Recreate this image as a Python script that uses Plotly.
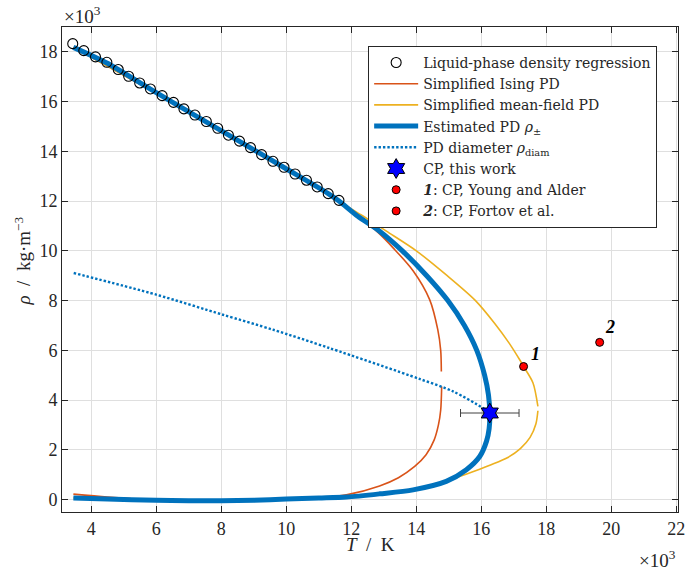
import plotly.graph_objects as go

# ---- data (units: 10^3 K, 10^3 kg/m^3) ----
circ_T = [3.43, 3.77, 4.13, 4.48, 4.83, 5.15, 5.49, 5.82, 6.18, 6.53, 6.85, 7.19, 7.54,
          7.89, 8.22, 8.56, 8.90, 9.24, 9.59, 9.93, 10.27, 10.62, 10.95, 11.29, 11.62]
circ_rho = [18.33, 18.05, 17.80, 17.58, 17.29, 17.02, 16.75, 16.51, 16.24, 15.97, 15.71, 15.46, 15.20,
            14.93, 14.65, 14.41, 14.15, 13.87, 13.60, 13.36, 13.09, 12.84, 12.57, 12.30, 12.03]

est_T = [3.45, 4.48, 5.82, 7.19, 8.56, 9.93, 11.29, 11.62, 12.2, 12.87, 13.57, 14.32, 14.97, 15.48,
         15.86, 16.1, 16.22, 16.26,
         16.24, 16.16, 15.95, 15.54, 14.92, 13.9, 12.87, 11.85, 11.0, 10.0, 9.0, 8.0, 7.0, 6.0, 4.5, 3.45]
est_rho = [18.18, 17.55, 16.5, 15.45, 14.4, 13.35, 12.3, 12.0, 11.39, 10.79, 10.0, 9.0, 8.0, 7.0,
           6.0, 5.0, 4.2, 3.48,
           2.85, 2.35, 1.73, 1.2, 0.73, 0.39, 0.23, 0.1, 0.06, 0.02, -0.03, -0.05, -0.05, -0.03, 0.02, 0.06]

ising_up_T = [3.45, 7.19, 11.29, 11.8, 12.3, 12.77, 13.3, 13.9, 14.41, 14.66, 14.75, 14.77]
ising_up_rho = [18.18, 15.45, 12.3, 11.8, 11.3, 10.8, 10.1, 9.2, 8.04, 6.83, 6.0, 5.15]
ising_lo_T = [14.78, 14.75, 14.68, 14.55, 14.3, 13.95, 13.45, 12.87, 11.85, 11.0, 10.0, 8.0, 6.0, 4.5, 3.45]
ising_lo_rho = [4.55, 3.6, 3.0, 2.4, 1.8, 1.33, 0.88, 0.55, 0.19, 0.06, 0.0, -0.06, -0.02, 0.1, 0.22]

mf_up_T = [3.45, 7.19, 11.29, 11.62, 12.36, 13.08, 14.0, 14.95, 15.82, 16.4, 16.85, 17.18, 17.3, 17.59, 17.74]
mf_up_rho = [18.18, 15.45, 12.3, 12.0, 11.4, 10.79, 10.0, 9.0, 8.0, 7.1, 6.3, 5.62, 5.35, 4.69, 3.75]
mf_lo_T = [17.74, 17.68, 17.5, 17.2, 16.8, 16.3, 15.8, 15.33, 14.92, 13.9, 12.87, 11.85, 10.0, 8.0, 6.0, 4.5, 3.45]
mf_lo_rho = [3.57, 3.05, 2.5, 2.05, 1.68, 1.4, 1.15, 0.93, 0.75, 0.39, 0.23, 0.1, 0.02, -0.05, -0.03, 0.02, 0.06]

diam_T = [3.46, 6.0, 8.05, 9.59, 11.33, 14.1, 15.13, 16.05, 16.26]
diam_rho = [9.11, 8.24, 7.43, 6.83, 6.09, 4.85, 4.35, 3.68, 3.48]

cp_T, cp_rho, cp_err = [16.26], [3.48], [0.9]
p1_T, p1_rho = [17.3], [5.35]
p2_T, p2_rho = [19.64], [6.32]

x_ticks = [4, 6, 8, 10, 12, 14, 16, 18, 20, 22]
y_ticks = [0, 2, 4, 6, 8, 10, 12, 14, 16, 18]

BLUE, RED, YEL = "#0072BD", "#D95319", "#EDB120"
FONT = "Liberation Serif"
LFONT = "DejaVu Serif"
INK = "#262626"

fig = go.Figure()
fig.add_trace(go.Scatter(
    x=ising_up_T + [None] + ising_lo_T, y=ising_up_rho + [None] + ising_lo_rho,
    mode="lines", line=dict(color=RED, width=1.6, shape="spline", smoothing=0.8),
    name="Simplified Ising PD", legendrank=2))
fig.add_trace(go.Scatter(
    x=mf_up_T + [None] + mf_lo_T, y=mf_up_rho + [None] + mf_lo_rho,
    mode="lines", line=dict(color=YEL, width=1.6, shape="spline", smoothing=0.8),
    name="Simplified mean-field PD", legendrank=3))
fig.add_trace(go.Scatter(
    x=est_T, y=est_rho, mode="lines",
    line=dict(color=BLUE, width=5, shape="spline", smoothing=0.8),
    name="Estimated PD <i>ρ</i><sub>±</sub>", legendrank=4))
fig.add_trace(go.Scatter(
    x=diam_T, y=diam_rho, mode="lines",
    line=dict(color=BLUE, width=2.4, dash="2.4px,2px", shape="spline", smoothing=0.8),
    name="PD diameter <i>ρ</i><sub>diam</sub>", legendrank=5))
fig.add_trace(go.Scatter(
    x=circ_T, y=circ_rho, mode="markers",
    marker=dict(symbol="circle-open", size=10, color="black", line=dict(width=1.1)),
    name="Liquid-phase density regression", legendrank=1))
fig.add_trace(go.Scatter(
    x=cp_T, y=cp_rho, mode="markers",
    error_x=dict(type="data", array=cp_err, color="#404040", thickness=1, width=4),
    marker=dict(symbol="hexagram", size=15, color="#0000FF", line=dict(color="black", width=1)),
    name="CP, this work", legendrank=6))
fig.add_trace(go.Scatter(
    x=p1_T, y=p1_rho, mode="markers",
    marker=dict(symbol="circle", size=8, color="#FF0000", line=dict(color="black", width=1)),
    name="<b><i>1</i></b>: CP, Young and Alder", legendrank=7))
fig.add_trace(go.Scatter(
    x=p2_T, y=p2_rho, mode="markers",
    marker=dict(symbol="circle", size=8, color="#FF0000", line=dict(color="black", width=1)),
    name="<b><i>2</i></b>: CP, Fortov et al.", legendrank=8))

axis_common = dict(
    showline=True, linecolor=INK, linewidth=1, mirror="ticks",
    ticks="inside", ticklen=6, tickcolor=INK, tickwidth=1,
    showgrid=True, gridcolor="#DFDFDF", gridwidth=1, zeroline=False,
    tickfont=dict(family=FONT, size=18, color=INK), automargin=False,
)
fig.update_xaxes(range=[3.1, 22.05], tickvals=x_ticks, ticktext=[str(v) for v in x_ticks], **axis_common)
fig.update_yaxes(range=[-0.5, 19], tickvals=y_ticks, ticktext=[str(v) for v in y_ticks], **axis_common)

# axis titles
fig.add_annotation(xref="paper", yref="paper", x=0.5, y=0, yanchor="middle", yshift=-32,
                   text="<i>T</i>  /  K", showarrow=False, font=dict(family=FONT, size=19, color=INK))
fig.add_annotation(xref="paper", yref="paper", x=0, y=0.5, xanchor="center", xshift=-40, yshift=8,
                   textangle=-90, text="<i>ρ</i>  /  kg·m<sup>−3</sup>", showarrow=False,
                   font=dict(family=FONT, size=19, color=INK))

fig.add_annotation(x=p1_T[0], y=p1_rho[0], text="<b><i>1</i></b>", showarrow=False,
                   xshift=12, yshift=13, font=dict(family=FONT, size=18, color="black"))
fig.add_annotation(x=p2_T[0], y=p2_rho[0], text="<b><i>2</i></b>", showarrow=False,
                   xshift=10, yshift=15, font=dict(family=FONT, size=18, color="black"))
fig.add_annotation(xref="paper", yref="paper", x=0, y=1, xanchor="left", yanchor="bottom",
                   text="×10<sup>3</sup>", showarrow=False, yshift=-2, xshift=0,
                   font=dict(family=FONT, size=19, color=INK))
fig.add_annotation(xref="paper", yref="paper", x=1, y=0, xanchor="right", yanchor="middle",
                   text="×10<sup>3</sup>", showarrow=False, yshift=-47,
                   font=dict(family=FONT, size=19, color=INK))

fig.update_layout(
    width=686, height=570,
    margin=dict(l=62, r=8, t=27, b=58, autoexpand=False),
    plot_bgcolor="white", paper_bgcolor="white",
    font=dict(family=FONT, color=INK),
    legend=dict(x=0.497, y=0.961, xanchor="left", yanchor="top",
                bgcolor="white", bordercolor=INK, borderwidth=1,
                font=dict(family=LFONT, size=14, color=INK),
                tracegroupgap=0, itemsizing="trace", itemwidth=44),
    showlegend=True,
)

fig.write_html("out.html", config={"displayModeBar": False},
               post_script="document.body.style.margin='0';")
